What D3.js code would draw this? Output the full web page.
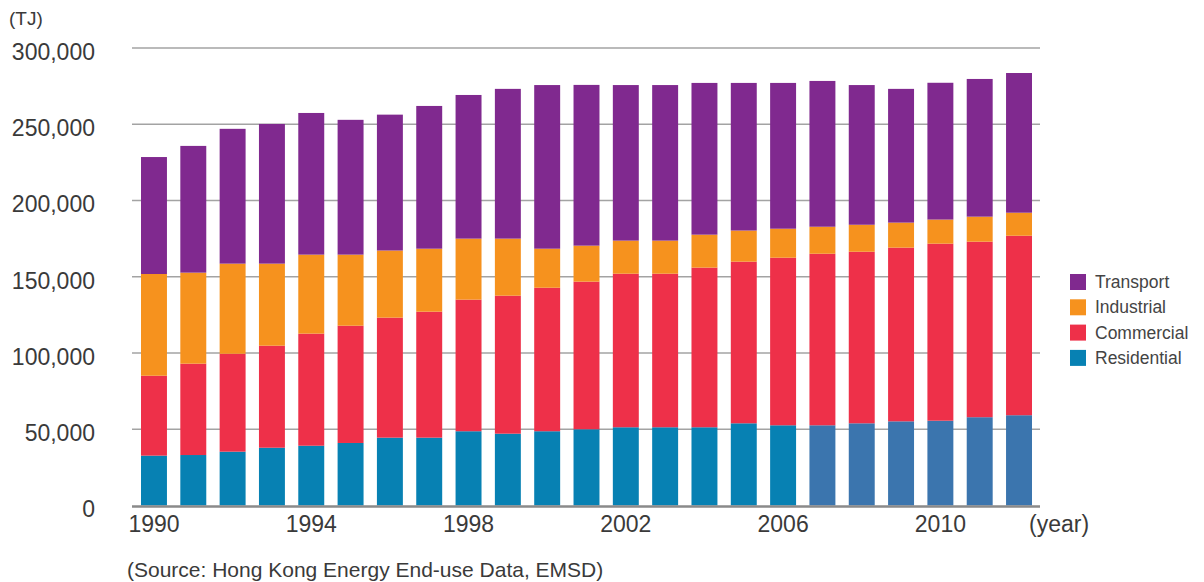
<!DOCTYPE html>
<html>
<head>
<meta charset="utf-8">
<script src="https://cdn.jsdelivr.net/npm/d3@7"></script>
<style>
  html, body { margin: 0; padding: 0; background: #fff; }
  svg { display: block; font-family: "Liberation Sans", Arial, sans-serif; }
</style>
</head>
<body>
<svg id="chart" width="1204" height="582"></svg>
<script>
// Hong Kong energy end-use by sector (TJ), 1990-2012
const years = d3.range(1990, 2013);
const seriesNames = ["Residential", "Commercial", "Industrial", "Transport"];
const residential = [32700, 33100, 35300, 37900, 39200, 41000, 44500, 44500, 48700, 47100, 48700, 50000, 51300, 51300, 51300, 53900, 52600, 52600, 53900, 55200, 55600, 57900, 59200];
const commercial  = [52400, 59900, 64200, 66900, 73500, 76900, 78700, 82600, 86300, 90500, 94100, 96800, 100700, 100700, 104700, 106000, 109900, 112500, 112500, 113900, 116100, 115100, 117700];
const industrial  = [66700, 59700, 59100, 53800, 51800, 46600, 44000, 41300, 40000, 37400, 25600, 23600, 21700, 21700, 21600, 20400, 19000, 17700, 17700, 16400, 15800, 16400, 15100];
const transport   = [76700, 83100, 88400, 91600, 92900, 88400, 89100, 93600, 94200, 98200, 107300, 105400, 102000, 102000, 99500, 96800, 95600, 95600, 91600, 87700, 89700, 90300, 91600];
const yTicks = [0, 50000, 100000, 150000, 200000, 250000, 300000];
const yearTicks = [1990, 1994, 1998, 2002, 2006, 2010];
const revisedFrom = 2007; // residential figures on the later basis
const unitLabel = "(TJ)";
const yearLabel = "(year)";
const sourceNote = "(Source: Hong Kong Energy End-use Data, EMSD)";

const colors = {
  Residential: "#0781b3",
  Commercial: "#ee3049",
  Industrial: "#f6921e",
  Transport: "#80298f"
};
const residentialRevised = "#3b75ae";

const rows = years.map((y, i) => ({
  year: y,
  Residential: residential[i],
  Commercial: commercial[i],
  Industrial: industrial[i],
  Transport: transport[i]
}));

const stacked = d3.stack().keys(seriesNames)(rows);

const svg = d3.select("#chart");

const x = d3.scaleBand()
  .domain(years)
  .range([141, 1032])
  .paddingInner(0.34)
  .paddingOuter(0);

const y = d3.scaleLinear()
  .domain([0, 300000])
  .range([505.5, 48]);

const gridLeft = 132, gridRight = 1040;

// horizontal gridlines
svg.append("g")
  .selectAll("line")
  .data(yTicks.filter(t => t > 0))
  .join("line")
  .attr("x1", gridLeft)
  .attr("x2", gridRight)
  .attr("y1", d => y(d))
  .attr("y2", d => y(d))
  .attr("stroke", "#a3a3a3")
  .attr("stroke-width", 1.6);

// stacked bars
svg.append("g")
  .selectAll("g")
  .data(stacked)
  .join("g")
  .selectAll("rect")
  .data(s => s.map(d => ({ key: s.key, d })))
  .join("rect")
  .attr("x", p => x(p.d.data.year))
  .attr("width", x.bandwidth())
  .attr("y", p => y(p.d[1]))
  .attr("height", p => y(p.d[0]) - y(p.d[1]))
  .attr("fill", p => (p.key === "Residential" && p.d.data.year >= revisedFrom)
    ? residentialRevised : colors[p.key]);

// baseline
svg.append("line")
  .attr("x1", gridLeft)
  .attr("x2", gridRight)
  .attr("y1", y(0) + 1)
  .attr("y2", y(0) + 1)
  .attr("stroke", "#8a8a8a")
  .attr("stroke-width", 2.6);

// y axis labels
const yAxis = d3.axisLeft(y)
  .tickValues(yTicks)
  .tickFormat(d3.format(","))
  .tickSize(0)
  .tickPadding(0);
const yg = svg.append("g")
  .attr("transform", "translate(95,4)")
  .call(yAxis);
yg.select(".domain").remove();
yg.selectAll("text")
  .attr("font-size", 23)
  .attr("font-family", "'Liberation Sans', Arial, sans-serif")
  .attr("fill", "#3a3a3a");

// x axis labels
const xAxis = d3.axisBottom(x)
  .tickValues(yearTicks)
  .tickSize(0)
  .tickPadding(0);
const xg = svg.append("g")
  .attr("transform", "translate(0,515)")
  .call(xAxis);
xg.select(".domain").remove();
xg.selectAll("text")
  .attr("dy", "0.74em")
  .attr("font-size", 23)
  .attr("font-family", "'Liberation Sans', Arial, sans-serif")
  .attr("fill", "#3a3a3a");

svg.append("text")
  .attr("x", 1029)
  .attr("y", 532)
  .attr("font-size", 23)
  .attr("fill", "#3a3a3a")
  .text(yearLabel);

svg.append("text")
  .attr("x", 9)
  .attr("y", 25)
  .attr("font-size", 19)
  .attr("fill", "#3a3a3a")
  .text(unitLabel);

svg.append("text")
  .attr("x", 127)
  .attr("y", 577)
  .attr("font-size", 21)
  .attr("fill", "#3a3a3a")
  .text(sourceNote);

// legend, top entry is the top of the stack
const legendItems = seriesNames.slice().reverse();
const legend = svg.append("g").attr("transform", "translate(1070,274)");
const li = legend.selectAll("g")
  .data(legendItems)
  .join("g")
  .attr("transform", (d, i) => `translate(0,${i * 25.3})`);
li.append("rect")
  .attr("width", 16)
  .attr("height", 16)
  .attr("fill", d => colors[d]);
li.append("text")
  .attr("x", 25)
  .attr("y", 14)
  .attr("font-size", 17.5)
  .attr("fill", "#444")
  .text(d => d);
</script>
</body>
</html>
